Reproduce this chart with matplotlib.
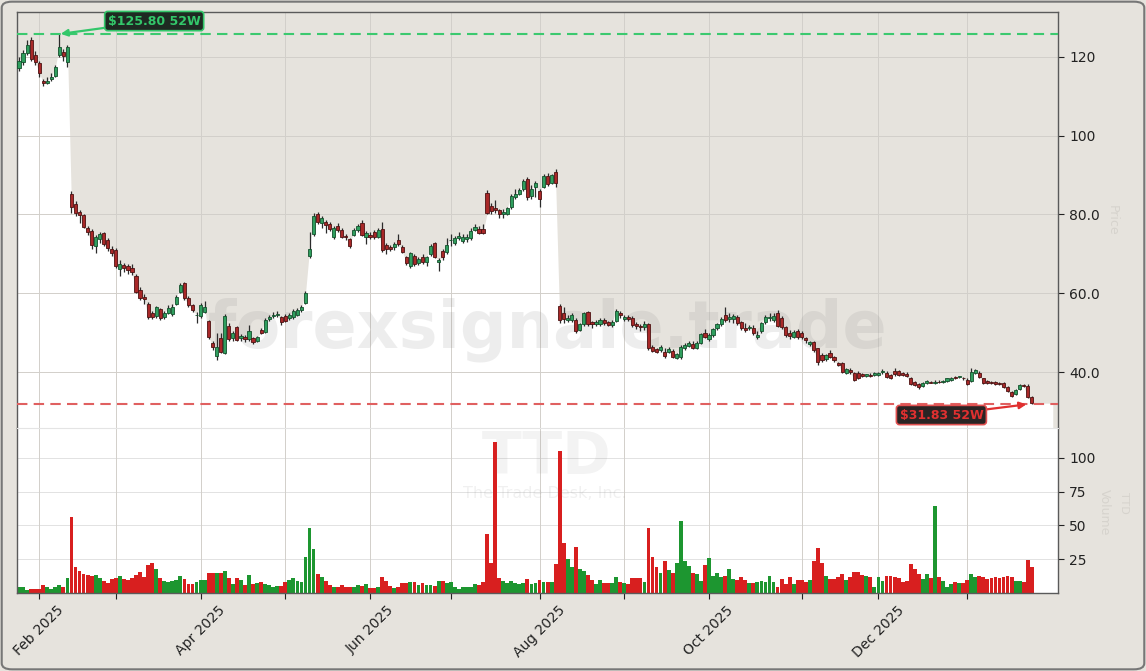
import numpy as np
import pandas as pd
import matplotlib
matplotlib.use("Agg")
import matplotlib.pyplot as plt
from matplotlib.patches import FancyBboxPatch

# ---------------- data ----------------
holidays = ["2025-02-17", "2025-04-18", "2025-05-26", "2025-06-19", "2025-07-04",
            "2025-09-01", "2025-11-27", "2025-12-25", "2026-01-01", "2026-01-19"]
dates = pd.bdate_range("2025-01-27", "2026-01-27")
dates = dates[~dates.isin(pd.to_datetime(holidays))]

opens = [117.2, 118.8, 121.1, 124.3, 120.5, 118.4, 114.0, 113.5, 114.4, 115.2,
         120.5, 121.3, 118.6, 85.2, 82.7, 80.7, 79.9, 76.5, 75.8, 72.0,
         73.9, 75.2, 73.4, 71.2, 71.0, 66.2, 67.2, 66.8, 66.5, 64.4,
         60.8, 59.0, 57.4, 55.1, 54.2, 55.9, 53.9, 55.1, 54.8, 57.3,
         60.4, 62.5, 58.7, 57.0, 54.4, 54.2, 55.3, 52.9, 47.3, 44.1,
         48.6, 44.9, 51.7, 48.6, 51.5, 48.6, 48.8, 48.5, 48.6, 48.0,
         50.8, 50.2, 53.4, 54.2, 54.6, 53.9, 54.3, 53.6, 54.0, 54.5,
         55.7, 57.6, 69.5, 75.0, 80.1, 77.8, 78.2, 77.6, 74.2, 77.0,
         76.1, 74.5, 73.8, 74.8, 76.0, 77.9, 74.2, 74.8, 75.6, 74.4,
         76.2, 72.3, 71.8, 71.7, 73.5, 71.8, 69.1, 66.9, 69.5, 67.6,
         69.3, 68.0, 70.0, 72.7, 68.0, 70.8, 70.6, 73.4, 72.7, 74.0,
         73.2, 73.9, 74.0, 76.1, 76.3, 76.3, 85.5, 82.2, 81.6, 81.1,
         80.2, 80.1, 81.8, 84.4, 85.2, 86.4, 88.9, 84.8, 87.0, 86.0,
         87.1, 89.8, 88.1, 90.9, 56.8, 55.0, 53.3, 53.2, 53.2, 50.8,
         52.1, 55.2, 52.6, 52.2, 52.1, 53.2, 52.6, 51.9, 53.0, 55.0,
         53.5, 54.1, 53.8, 52.2, 51.8, 51.4, 52.2, 46.4, 45.8, 45.6,
         45.2, 45.2, 45.3, 43.5, 43.7, 46.0, 46.7, 47.0, 46.2, 47.3,
         49.8, 48.4, 49.4, 51.2, 52.1, 54.6, 53.5, 53.4, 54.1, 52.6,
         51.3, 51.2, 51.3, 48.9, 50.3, 52.6, 53.6, 53.2, 54.9, 53.8,
         51.5, 49.8, 49.0, 50.4, 49.8, 48.6, 47.1, 47.7, 46.0, 44.3,
         43.2, 44.9, 43.7, 42.2, 42.2, 39.8, 40.6, 39.8, 39.8, 39.5,
         39.0, 39.3, 39.2, 39.2, 39.9, 39.8, 39.2, 40.3, 40.3, 39.8,
         39.6, 38.4, 37.5, 36.9, 36.4, 37.1, 37.5, 37.3, 37.6, 37.5,
         37.8, 38.0, 38.6, 38.7, 38.6, 38.0, 37.8, 39.8, 39.8, 38.4,
         37.8, 37.4, 37.4, 37.2, 37.3, 36.3, 35.0, 34.4, 35.6, 36.7,
         36.4, 33.6]
highs = [120.0, 121.8, 124.3, 125.0, 121.5, 119.0, 114.5, 115.0, 115.8, 118.0,
         125.8, 122.0, 123.0, 86.0, 83.5, 81.2, 80.2, 77.0, 76.2, 74.8,
         75.6, 75.5, 74.0, 72.0, 71.5, 68.5, 67.8, 67.5, 67.5, 64.8,
         61.5, 59.8, 57.8, 55.5, 56.8, 56.2, 55.5, 57.0, 57.2, 59.6,
         62.5, 62.8, 59.2, 57.3, 55.2, 57.6, 58.0, 53.2, 47.8, 50.0,
         49.8, 54.8, 52.5, 50.5, 51.8, 49.6, 49.3, 52.0, 49.0, 49.2,
         51.3, 53.6, 54.6, 55.3, 55.5, 54.2, 54.8, 55.0, 56.0, 56.2,
         57.0, 60.5, 75.6, 80.4, 80.7, 79.5, 78.7, 78.0, 77.0, 77.8,
         76.5, 75.0, 74.0, 76.5, 77.5, 78.5, 75.8, 75.5, 76.0, 76.5,
         78.0, 72.8, 72.2, 73.0, 75.0, 72.2, 69.5, 70.6, 70.0, 69.2,
         70.0, 69.5, 72.5, 73.0, 69.0, 71.2, 74.0, 75.0, 74.5, 75.5,
         75.0, 75.0, 76.5, 77.6, 77.0, 77.5, 86.2, 83.0, 83.8, 81.5,
         81.5, 82.0, 85.2, 86.5, 86.8, 89.0, 89.4, 87.5, 88.6, 86.5,
         90.2, 90.5, 90.3, 91.5, 57.2, 56.6, 54.5, 55.0, 53.6, 52.5,
         55.3, 55.5, 53.0, 53.2, 53.6, 53.8, 53.0, 53.2, 55.9, 55.5,
         54.5, 54.5, 54.2, 52.8, 52.2, 53.0, 52.5, 46.8, 46.2, 46.8,
         46.0, 46.3, 45.8, 44.8, 46.8, 47.3, 48.0, 47.8, 47.8, 50.0,
         51.0, 50.0, 51.3, 52.5, 53.9, 56.5, 55.0, 54.8, 54.5, 53.0,
         52.5, 52.0, 52.0, 50.3, 52.8, 54.6, 55.0, 55.0, 55.8, 54.2,
         51.8, 50.7, 50.8, 51.0, 50.3, 48.9, 48.0, 48.0, 46.2, 44.8,
         44.6, 45.5, 44.0, 42.6, 42.5, 41.0, 41.0, 40.0, 40.2, 39.8,
         39.6, 39.7, 39.9, 40.0, 40.9, 40.2, 39.5, 41.0, 40.6, 40.1,
         39.9, 38.7, 37.8, 37.2, 37.5, 38.0, 37.8, 38.0, 37.9, 38.0,
         38.5, 38.8, 38.9, 39.1, 38.8, 38.4, 41.0, 40.9, 40.2, 38.6,
         38.0, 37.8, 37.7, 37.5, 37.5, 36.5, 35.2, 35.6, 36.9, 37.0,
         37.0, 33.8]
lows = [116.5, 118.0, 120.5, 119.0, 118.0, 115.0, 112.5, 113.0, 113.8, 114.8,
        120.0, 118.9, 117.5, 80.5, 79.5, 77.8, 76.5, 74.8, 71.3, 70.2,
        72.8, 72.0, 70.8, 69.5, 66.5, 64.5, 65.5, 64.8, 64.6, 60.0,
        58.3, 57.3, 53.5, 53.5, 53.8, 53.2, 53.5, 54.8, 54.3, 56.9,
        60.0, 58.4, 56.5, 55.2, 52.5, 53.8, 55.0, 48.5, 45.5, 43.0,
        44.8, 44.5, 47.8, 48.0, 47.8, 48.0, 47.7, 48.0, 47.0, 47.6,
        49.6, 49.8, 53.0, 53.8, 54.0, 52.0, 52.8, 53.2, 53.5, 54.2,
        55.2, 57.2, 68.9, 74.5, 77.5, 76.5, 75.2, 75.8, 73.8, 75.5,
        74.0, 73.5, 71.5, 74.5, 75.5, 74.5, 72.5, 73.8, 73.8, 74.0,
        70.5, 70.0, 70.8, 71.0, 72.0, 70.2, 67.2, 66.5, 67.0, 67.2,
        67.5, 66.8, 69.5, 69.0, 65.7, 68.5, 70.0, 72.0, 72.3, 73.5,
        72.8, 73.0, 73.6, 75.8, 75.0, 75.0, 80.0, 80.0, 80.5, 79.2,
        79.0, 79.8, 81.5, 84.0, 85.0, 86.0, 83.8, 84.0, 84.5, 81.8,
        86.8, 87.2, 87.8, 87.0, 52.5, 52.5, 52.8, 52.8, 50.0, 50.5,
        51.8, 51.8, 51.2, 51.8, 51.8, 52.0, 51.7, 51.5, 52.8, 53.8,
        53.0, 53.0, 51.5, 50.9, 50.5, 50.8, 45.5, 45.0, 44.8, 45.0,
        43.5, 44.8, 43.5, 43.2, 43.4, 45.6, 46.3, 45.8, 45.8, 47.0,
        48.7, 48.0, 49.0, 50.8, 51.8, 52.8, 52.8, 52.5, 52.0, 50.8,
        50.2, 50.6, 49.5, 48.5, 50.0, 52.2, 53.0, 52.8, 51.5, 51.0,
        49.0, 48.5, 48.6, 48.3, 48.5, 47.5, 46.5, 45.0, 41.8, 42.5,
        42.8, 43.5, 42.6, 41.5, 39.8, 39.5, 39.6, 37.8, 38.3, 38.8,
        38.7, 38.8, 39.0, 38.9, 39.6, 38.5, 38.3, 39.0, 39.0, 39.0,
        38.8, 36.8, 36.5, 35.8, 36.2, 36.9, 37.1, 37.0, 37.2, 37.3,
        37.6, 37.8, 38.2, 38.5, 38.1, 36.7, 37.5, 39.5, 38.6, 36.9,
        36.9, 36.9, 36.8, 36.7, 35.9, 35.0, 33.7, 34.2, 35.4, 36.1,
        33.3, 31.83]
closes = [119.0, 120.9, 123.0, 119.5, 118.8, 115.9, 113.5, 114.0, 115.0, 117.4,
          122.6, 120.3, 122.5, 82.0, 80.3, 79.9, 76.9, 75.6, 72.3, 74.2,
          75.0, 72.5, 71.4, 70.3, 67.0, 67.4, 66.5, 66.0, 65.3, 60.4,
          58.7, 58.6, 53.9, 53.9, 56.4, 53.6, 55.1, 56.2, 56.5, 59.1,
          62.0, 58.7, 57.0, 55.7, 54.6, 57.0, 56.4, 49.0, 46.3, 46.3,
          45.2, 54.2, 48.3, 50.0, 48.1, 49.1, 48.3, 50.4, 47.6, 48.8,
          50.0, 53.2, 54.0, 54.6, 54.8, 52.6, 53.0, 54.5, 55.5, 55.7,
          56.6, 60.0, 71.2, 79.6, 78.2, 79.0, 77.3, 76.2, 76.5, 76.1,
          74.4, 74.3, 72.0, 76.1, 77.1, 74.8, 75.4, 74.4, 74.4, 76.1,
          71.0, 71.2, 71.2, 72.5, 72.6, 70.6, 67.8, 70.1, 67.4, 68.7,
          68.0, 69.1, 72.0, 69.3, 68.5, 69.1, 72.3, 73.6, 74.0, 74.5,
          74.2, 74.2, 75.9, 76.9, 75.4, 75.4, 80.3, 81.0, 81.2, 80.1,
          80.7, 81.6, 84.7, 85.2, 86.2, 88.6, 84.5, 86.4, 88.0, 84.0,
          89.8, 87.7, 90.0, 88.0, 53.2, 53.4, 53.8, 54.5, 50.4, 52.1,
          54.9, 52.1, 52.2, 52.6, 53.2, 52.4, 52.0, 52.8, 55.5, 54.5,
          54.1, 53.5, 51.9, 51.8, 51.4, 52.2, 46.0, 45.3, 45.2, 46.3,
          44.0, 45.9, 43.9, 44.5, 46.4, 46.8, 47.5, 46.0, 47.3, 49.6,
          49.0, 49.4, 50.9, 52.1, 53.5, 53.2, 54.1, 54.2, 52.4, 51.3,
          50.6, 51.4, 49.8, 49.5, 52.4, 54.1, 54.0, 54.3, 51.8, 51.5,
          49.4, 49.2, 50.2, 48.8, 49.0, 48.1, 47.7, 45.6, 42.6, 43.0,
          44.3, 43.9, 43.0, 41.9, 40.1, 40.7, 39.9, 38.1, 38.6, 39.0,
          39.4, 39.0, 39.7, 39.8, 40.2, 38.8, 38.6, 39.5, 39.2, 39.2,
          39.0, 37.0, 36.7, 36.1, 37.3, 37.8, 37.3, 37.6, 37.4, 37.8,
          38.4, 38.6, 38.5, 38.8, 38.4, 37.0, 40.1, 40.5, 38.8, 37.1,
          37.1, 37.1, 37.0, 36.9, 36.1, 35.3, 33.9, 35.4, 36.7, 36.4,
          33.7, 32.1]
volumes = [4.2, 4.2, 2.5, 2.9, 2.9, 2.9, 5.9, 4.2, 2.9, 4.2,
           5.9, 4.2, 10.8, 55.9, 19.1, 16.2, 14.0, 13.2, 12.7, 13.2,
           10.8, 8.8, 7.4, 10.3, 10.8, 12.5, 10.3, 9.8, 11.0, 13.2,
           15.2, 11.5, 20.6, 22.0, 17.6, 10.8, 8.8, 8.3, 9.1, 9.8,
           12.5, 10.3, 6.9, 6.4, 7.8, 9.6, 9.6, 14.5, 14.5, 14.5,
           14.5, 16.2, 10.8, 6.9, 11.0, 9.3, 5.9, 13.2, 6.9, 7.4,
           7.8, 6.6, 5.9, 4.7, 5.1, 5.1, 8.1, 9.8, 10.8, 8.8,
           7.8, 26.5, 48.3, 32.4, 14.0, 11.8, 8.8, 6.1, 4.4, 4.4,
           6.1, 4.4, 4.4, 4.4, 5.9, 4.9, 6.6, 3.4, 3.4, 4.4,
           11.8, 8.8, 5.4, 3.4, 4.2, 7.4, 7.4, 7.8, 7.8, 5.9,
           7.4, 5.9, 5.9, 4.9, 8.6, 8.6, 7.4, 7.8, 4.2, 2.9,
           4.2, 4.2, 4.2, 6.6, 5.9, 7.8, 43.4, 22.0, 111.8, 10.8,
           8.8, 7.4, 8.6, 7.4, 6.6, 7.4, 10.3, 6.4, 7.4, 9.3,
           7.8, 7.8, 7.8, 21.3, 105.1, 37.3, 25.0, 19.1, 33.8, 17.6,
           16.2, 13.2, 9.8, 6.6, 9.3, 7.4, 7.4, 7.4, 11.8, 7.8,
           7.4, 6.9, 10.8, 10.8, 10.8, 7.8, 47.8, 26.5, 19.1, 14.7,
           23.5, 17.2, 14.7, 22.0, 53.0, 23.3, 20.1, 14.7, 14.0, 8.8,
           20.6, 25.7, 12.3, 14.7, 11.8, 12.7, 17.6, 10.3, 9.3, 11.5,
           9.3, 7.4, 7.4, 7.8, 8.8, 8.3, 12.7, 7.8, 4.2, 10.3,
           6.6, 11.5, 6.6, 9.6, 9.6, 8.3, 9.6, 24.0, 33.6, 22.5,
           12.3, 10.3, 10.3, 11.5, 14.0, 9.6, 11.5, 15.2, 15.2, 13.2,
           12.7, 11.5, 4.2, 11.5, 9.1, 12.7, 12.3, 11.5, 10.8, 7.8,
           9.1, 21.3, 17.6, 14.0, 10.3, 13.7, 10.8, 64.2, 11.5, 8.6,
           4.2, 6.6, 7.8, 7.4, 7.4, 9.8, 14.0, 11.5, 12.3, 11.5,
           10.3, 10.8, 11.5, 10.8, 11.5, 12.3, 11.5, 8.6, 8.6, 7.8,
           24.5, 18.9]

high_52w = 125.80
low_52w = 31.83
ticker = "TTD"
company = "The Trade Desk, Inc."
price_ticks = [40, 60, 80, 100, 120]
price_tick_labels = ["40.0", "60.0", "80.0", "100", "120"]
vol_ticks = [25, 50, 75, 100]
vol_tick_labels = ["25", "50", "75", "100"]

# ---------------- style ----------------
BG = "#e6e3dd"
UP_BODY, UP_EDGE = "#2f9e5e", "#14502c"
DN_BODY, DN_EDGE = "#a82828", "#4d1212"
VOL_UP, VOL_DN = "#1d9630", "#d81f1f"
GRID = "#d2cfca"

o = np.array(opens); h = np.array(highs); l = np.array(lows); c = np.array(closes)
v = np.array(volumes)
n = len(dates)
x = np.arange(n)
up = c >= o

fig = plt.figure(figsize=(11.46, 6.71), dpi=100, facecolor=BG)
W, H = 1146, 671
ax = fig.add_axes([17 / W, 1 - 428 / H, (1058 - 17) / W, (428 - 12) / H])
axv = fig.add_axes([17 / W, 1 - 593 / H, (1058 - 17) / W, (593 - 428) / H], sharex=ax)

ax.set_facecolor(BG)
axv.set_facecolor("white")

ymin, ymax = 25.8, 131.4
ax.set_ylim(ymin, ymax)
ax.set_xlim(-0.5, n + 5.5)

# white area under close line
xf = np.concatenate([[-0.5], x, [n + 4.2]])
yf = np.concatenate([[c[0]], c, [c[-1]]])
ax.fill_between(xf, yf, ymin, color="white", zorder=1, lw=0)

# grid
month_first = pd.Series(x, index=dates).groupby([dates.year, dates.month]).first()
mpos = month_first.values[1:]
mdates = [dates[i] for i in mpos]
for a in (ax, axv):
    for p in mpos:
        a.axvline(p, color=GRID, lw=0.7, zorder=1.5)
for t in price_ticks:
    ax.axhline(t, color=GRID, lw=0.7, zorder=1.5)
for t in vol_ticks:
    axv.axhline(t, color="#e2e2e2", lw=0.7, zorder=0.5)

# candles
ax.vlines(x, l, h, color="#2b2b2b", lw=0.9, zorder=3)
body_lo = np.minimum(o, c)
body_h = np.maximum(np.abs(c - o), 0.18)
ax.bar(x[up], body_h[up], bottom=body_lo[up], width=0.78, color=UP_BODY,
       edgecolor=UP_EDGE, linewidth=0.6, zorder=4)
ax.bar(x[~up], body_h[~up], bottom=body_lo[~up], width=0.78, color=DN_BODY,
       edgecolor=DN_EDGE, linewidth=0.6, zorder=4)

# 52w lines
ax.axhline(high_52w, color="#3cc96f", lw=1.5, ls=(0, (5, 3)), zorder=5)
ax.axhline(low_52w, color="#e06060", lw=1.5, ls=(0, (5, 3)), zorder=5)

i_hi = int(np.argmax(h)); i_lo = int(np.argmin(l))
ax.annotate("\\$%.2f 52W" % high_52w, xy=(i_hi, high_52w), xytext=(33.5, 129.1),
            color="#33c76a", fontsize=9, fontweight="bold", ha="center", va="center",
            bbox=dict(boxstyle="round,pad=0.25", fc="#1e2a22", ec="#33c76a", lw=1.2),
            arrowprops=dict(arrowstyle="-|>", color="#33c76a", lw=1.6, mutation_scale=10,
                            shrinkA=0, shrinkB=1), zorder=8)
ax.annotate("\\$%.2f 52W" % low_52w, xy=(i_lo - 1, low_52w), xytext=(228.6, 29.1),
            color="#e03030", fontsize=9, fontweight="bold", ha="center", va="center",
            bbox=dict(boxstyle="round,pad=0.25", fc="#2a2424", ec="#e05050", lw=1.2),
            arrowprops=dict(arrowstyle="-|>", color="#e03030", lw=1.6, mutation_scale=10,
                            shrinkA=0, shrinkB=1), zorder=8)

# volume
axv.bar(x, v, width=0.95, color=np.where(up, VOL_UP, VOL_DN), linewidth=0, zorder=2)
axv.set_ylim(0, 122)

# ticks
for a in (ax, axv):
    a.yaxis.tick_right()
    a.tick_params(axis="y", direction="out", length=4, width=0.8, colors="#222222",
                  labelsize=10, pad=4)
ax.set_yticks(price_ticks)
ax.set_yticklabels(price_tick_labels)
axv.set_yticks(vol_ticks)
axv.set_yticklabels(vol_tick_labels)
ax.tick_params(axis="x", length=0, labelbottom=False)

axv.set_xticks(mpos)
axv.set_xticklabels([d.strftime("%b %Y") if d.month % 2 == 0 else "" for d in mdates],
                    rotation=45, ha="center", fontsize=10, color="#222222")
axv.tick_params(axis="x", direction="out", length=4, width=0.8, colors="#222222")

for a in (ax, axv):
    for s in a.spines.values():
        s.set_color("#5a5a5a")
        s.set_linewidth(1.0)
ax.spines["bottom"].set_visible(False)
axv.spines["top"].set_color("#e4e4e4")
axv.spines["top"].set_linewidth(0.8)

# watermarks
ax.text(0.51, 0.235, "forexsignale.trade", transform=ax.transAxes, fontsize=47,
        fontweight="bold", color="#7a7a7a", alpha=0.13, ha="center", va="center", zorder=2)
fig.text(547 / W, 1 - 457 / H, ticker, fontsize=42, fontweight="bold", color="#8a8a8a",
         alpha=0.1, ha="center", va="center", zorder=0)
fig.text(545 / W, 1 - 494 / H, company, fontsize=11.5, color="#8a8a8a", alpha=0.12,
         ha="center", va="center", zorder=0)

# faint side labels
fig.text(1112 / W, 1 - 220 / H, "Price", rotation=270, fontsize=9, color="#d6d3cd",
         ha="center", va="center")
fig.text(1104 / W, 1 - 512 / H, "Volume", rotation=270, fontsize=9, color="#d6d3cd",
         ha="center", va="center")
fig.text(1124 / W, 1 - 503 / H, ticker, rotation=270, fontsize=8, color="#d6d3cd",
         ha="center", va="center")

# figure border
fig.patches.append(FancyBboxPatch((0.0015, 0.0025), 0.997, 0.995,
                                  boxstyle="round,pad=0,rounding_size=0.009",
                                  transform=fig.transFigure, fc="none",
                                  ec="#777777", lw=1.5))

fig.savefig("out.png", dpi=100, facecolor=BG)
